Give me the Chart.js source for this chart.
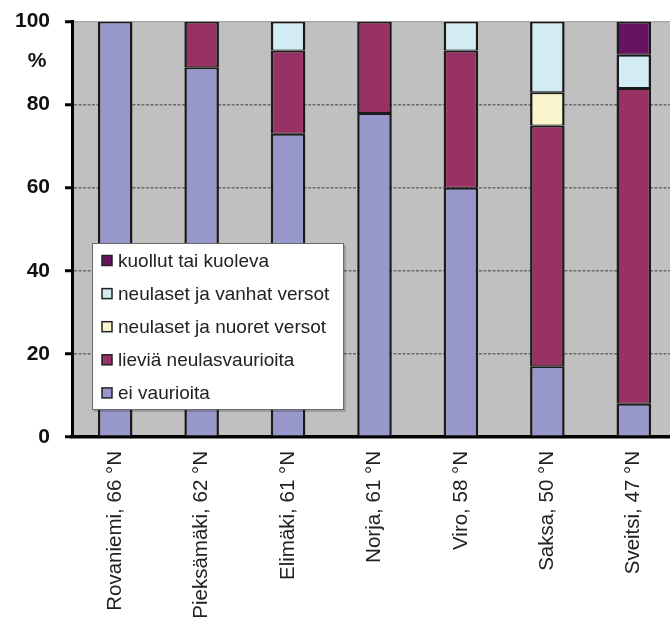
<!DOCTYPE html>
<html>
<head>
<meta charset="utf-8">
<script src="https://cdn.jsdelivr.net/npm/chart.js@4/dist/chart.umd.min.js"></script>
<style>
  html, body { margin: 0; padding: 0; background: #fff; overflow: hidden; width: 670px; height: 626px; }
  #wrap { position: relative; width: 677px; height: 626px; }
</style>
</head>
<body>
<div id="wrap"><canvas id="c" width="677" height="626"></canvas></div>
<script>
// ---- data ----
const categories = ["Rovaniemi, 66 °N", "Pieksämäki, 62 °N", "Elimäki, 61 °N", "Norja, 61 °N", "Viro, 58 °N", "Saksa, 50 °N", "Sveitsi, 47 °N"];
const eiVaurioita      = [100, 89, 73, 78, 60, 17, 8];
const lievia           = [null, 11, 20, 22, 33, 58, 76];
const nuoretVersot     = [null, null, null, null, null, 8, null];
const vanhatVersot     = [null, null, 7, null, 7, 17, 8];
const kuollut          = [null, null, null, null, null, null, 8];
const seriesLabels = ["ei vaurioita", "lieviä neulasvaurioita", "neulaset ja nuoret versot", "neulaset ja vanhat versot", "kuollut tai kuoleva"];
const seriesColors = ["#9797CB", "#993264", "#FAF5CC", "#D3EBF2", "#661462"];
const yTicks = [0, 20, 40, 60, 80, 100];
const yUnit = "%";

const seriesData = [eiVaurioita, lievia, nuoretVersot, vanhatVersot, kuollut];
const datasets = seriesData.map((d, i) => ({
  label: seriesLabels[i],
  data: d,
  backgroundColor: seriesColors[i],
  borderColor: "#1a1a1a",
  borderWidth: { left: 2.5, right: 2.5, top: 2, bottom: 1 },
  borderSkipped: false,
  categoryPercentage: 1.0,
  barPercentage: 0.4
}));

const bgPlugin = {
  id: "plotBg",
  beforeDraw(chart) {
    const a = chart.chartArea, ctx = chart.ctx;
    ctx.save();
    ctx.fillStyle = "#C0C0C0";
    ctx.fillRect(a.left, a.top, a.right - a.left, a.bottom - a.top);
    ctx.restore();
  }
};

const extrasPlugin = {
  id: "extras",
  afterDraw(chart) {
    const ctx = chart.ctx;
    ctx.save();
    // unit label
    ctx.fillStyle = "#111";
    ctx.font = "bold 21px 'Liberation Sans', Arial, sans-serif";
    ctx.textAlign = "center";
    ctx.textBaseline = "middle";
    ctx.fillText(yUnit, 37, 61);
    // legend (custom, inside plot)
    const bx = 92, by = 243, bw = 252, bh = 167;
    ctx.fillStyle = "rgba(0,0,0,0.18)";
    ctx.fillRect(bx + 2, by + 2, bw, bh);
    ctx.fillStyle = "#fff";
    ctx.fillRect(bx, by, bw, bh);
    ctx.strokeStyle = "#6a6a6a";
    ctx.lineWidth = 1;
    ctx.strokeRect(bx + 0.5, by + 0.5, bw - 1, bh - 1);
    ctx.font = "19px 'Liberation Sans', Arial, sans-serif";
    ctx.textAlign = "left";
    const ds = chart.data.datasets;
    for (let k = 0; k < ds.length; k++) {
      const d = ds[ds.length - 1 - k];
      const cy = 260.5 + k * 33.1;
      ctx.fillStyle = d.backgroundColor;
      ctx.fillRect(102, cy - 5, 10, 10);
      ctx.strokeStyle = "#222";
      ctx.lineWidth = 1.5;
      ctx.strokeRect(102, cy - 5, 10, 10);
      ctx.fillStyle = "#222";
      ctx.fillText(d.label, 118, cy + 1);
    }
    ctx.restore();
  }
};

new Chart(document.getElementById("c"), {
  type: "bar",
  data: { labels: categories, datasets },
  plugins: [bgPlugin, extrasPlugin],
  options: {
    responsive: false,
    animation: false,
    devicePixelRatio: 1,
    layout: { padding: { top: 21.5, right: 0, left: 0, bottom: 0 } },
    plugins: { legend: { display: false }, tooltip: { enabled: false } },
    scales: {
      x: {
        stacked: true,
        grid: { display: false, drawTicks: false },
        border: { display: true, color: "#000", width: 3.5 },
        ticks: {
          color: "#222",
          font: { family: "'Liberation Sans', Arial, sans-serif", size: 20.5 },
          minRotation: 90, maxRotation: 90,
          padding: 14
        },
        afterFit(scale) { scale.height = 189; }
      },
      y: {
        stacked: true,
        min: 0, max: 100,
        afterBuildTicks(scale) { scale.ticks = yTicks.map(v => ({ value: v })); },
        grid: {
          color: (c) => c.tick && c.tick.value === 100 ? "#a9a9a9" : (c.tick && c.tick.value === 0 ? "rgba(0,0,0,0)" : "#6a6a6a"),
          lineWidth: 1.5,
          tickLength: 7,
          tickColor: "#000",
          tickWidth: 3
        },
        border: { display: true, color: "#000", width: 3, dash: (c) => c.tick && c.tick.value === 100 ? [] : [3, 1.5] },
        ticks: {
          color: "#111",
          padding: 15,
          font: { family: "'Liberation Sans', Arial, sans-serif", size: 21, weight: "bold" }
        },
        afterFit(scale) { scale.width = 72; scale.paddingTop = 0; scale.paddingBottom = 0; }
      }
    }
  }
});
</script>
</body>
</html>
